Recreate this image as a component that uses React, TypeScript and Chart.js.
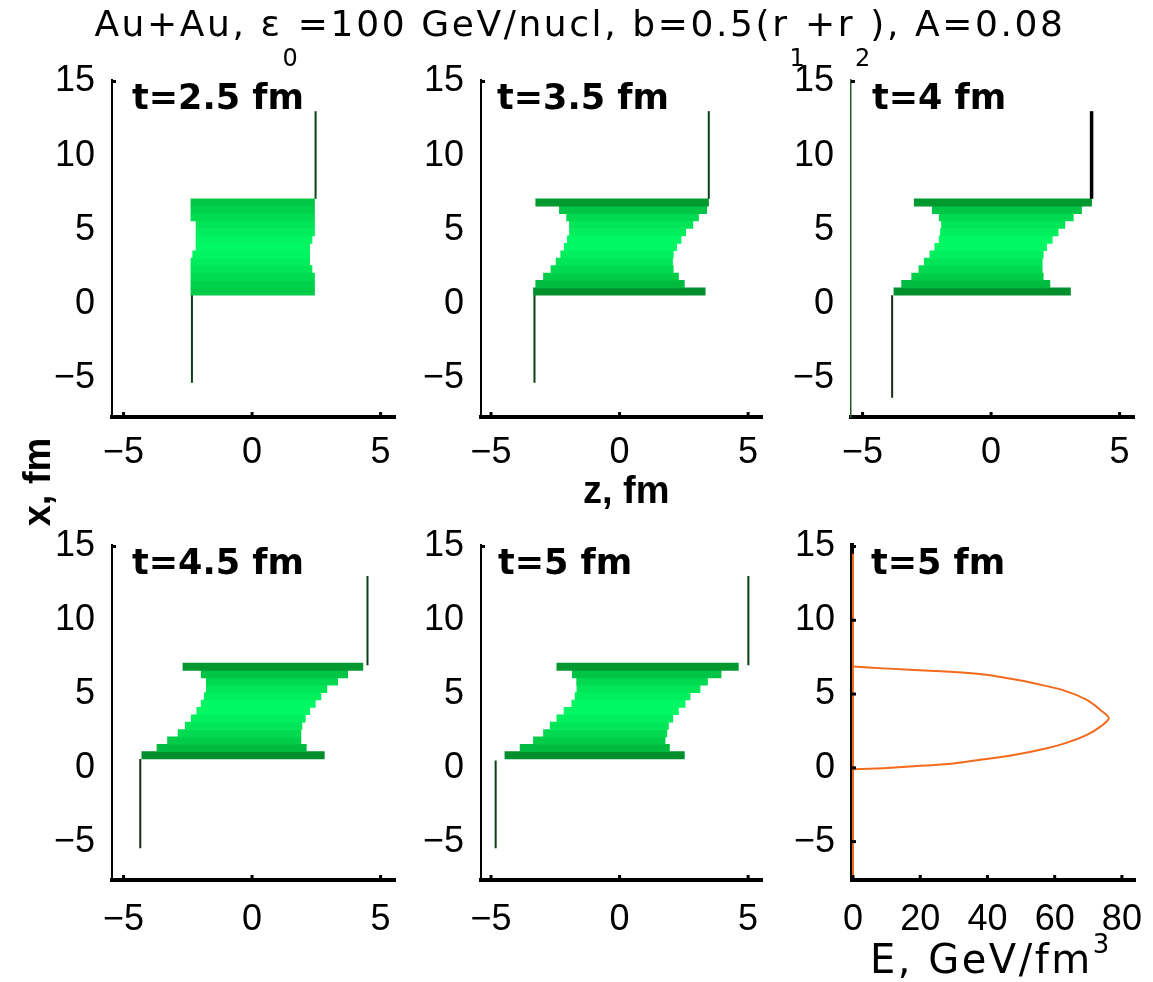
import React, { useEffect, useRef } from 'react';
import { Chart, registerables } from 'chart.js';

Chart.register(...registerables);

// ---------- DATA ----------
// transverse coordinate x (fm) of the centre of each fluid strip
const stripX = [0.85, 1.35, 1.85, 2.35, 2.85, 3.35, 3.85, 4.35, 4.85, 5.35, 5.85, 6.35, 6.85];

// left / right longitudinal edge z (fm) of each strip, bottom strip first
const zLeft_t25 = [-2.38, -2.38, -2.38, -2.38, -2.38, -2.31, -2.18, -2.18, -2.18, -2.18, -2.38, -2.38, -2.38];
const zRight_t25 = [2.43, 2.43, 2.43, 2.33, 2.24, 2.24, 2.24, 2.33, 2.43, 2.43, 2.43, 2.43, 2.43];

const zLeft_t35 = [-3.35, -3.26, -2.96, -2.67, -2.47, -2.29, -2.15, -2.03, -1.95, -1.95, -2.06, -2.34, -3.26];
const zRight_t35 = [3.33, 2.52, 2.29, 2.09, 2.06, 2.09, 2.22, 2.39, 2.57, 2.85, 3.07, 3.39, 3.46];

const zLeft_t40 = [-3.78, -3.48, -3.09, -2.81, -2.60, -2.38, -2.19, -2.02, -1.97, -1.93, -2.02, -2.29, -2.99];
const zRight_t40 = [3.09, 2.29, 2.03, 1.99, 1.99, 2.03, 2.16, 2.38, 2.61, 2.87, 3.20, 3.52, 3.91];

const zLeft_t45 = [-4.29, -3.70, -3.29, -2.88, -2.60, -2.37, -2.15, -1.98, -1.86, -1.78, -1.78, -1.98, -2.69];
const zRight_t45 = [2.81, 2.11, 1.90, 1.90, 1.94, 2.07, 2.24, 2.46, 2.68, 2.91, 3.33, 3.72, 4.31];

const zLeft_t50 = [-4.46, -3.87, -3.35, -2.96, -2.70, -2.44, -2.16, -1.86, -1.73, -1.66, -1.67, -1.84, -2.44];
const zRight_t50 = [2.52, 1.94, 1.77, 1.84, 1.90, 2.07, 2.29, 2.55, 2.74, 3.13, 3.42, 3.95, 4.62];

// spectator lines: z position and x extent
const specRightZ = [2.47, 3.47, 3.91, 4.49, 5.01];
const specRightX = [[7.1, 13.0], [7.1, 13.0], [7.1, 13.0], [6.95, 13.0], [6.95, 13.0]];
const specLeftZ = [-2.34, -3.31, -3.85, -4.35, -4.82];
const specLeftX = [[0.6, -5.3], [0.6, -5.3], [0.6, -6.3], [0.6, -5.45], [0.5, -5.45]];

// energy density profile at t = 5 fm (E in GeV/fm^3 versus x in fm)
const eProfile = [0, 9.1, 27.5, 38.9, 47.8, 53.8, 62.7, 69.6, 73.6, 76.1, 73.6, 69.6, 63.7, 57.7, 47.8, 37.9, 29.9, 18.0, 9.1, 0];
const xProfile = [6.86, 6.74, 6.52, 6.32, 6.0, 5.73, 5.25, 4.6, 3.92, 3.36, 2.79, 2.23, 1.71, 1.33, 0.87, 0.55, 0.3, 0.1, -0.02, -0.1];
// zero-energy line along the whole x range
const eZeroLine = [0, 0];
const xZeroLine = [14.5, -7.6];

const timeLabels = ['t=2.5 fm', 't=3.5 fm', 't=4 fm', 't=4.5 fm', 't=5 fm', 't=5 fm'];
const zTicks = [-5, 0, 5];
const xTicks = [-5, 0, 5, 10, 15];
const eTicks = [0, 20, 40, 60, 80];

const zLeftSets = [zLeft_t25, zLeft_t35, zLeft_t40, zLeft_t45, zLeft_t50];
const zRightSets = [zRight_t25, zRight_t35, zRight_t40, zRight_t45, zRight_t50];

// ---------- STYLE / LAYOUT ----------
const AY = 70;
const AX = 60;
const PT = 30;
const PR = 15;

const softColors = ['#00cc48', '#00d24c', '#00dc52', '#00e657', '#00ee5c', '#00f560', '#00f862', '#00f560', '#00ee5c', '#00e657', '#00dc52', '#00d24c', '#00c846'];
const deepColors = ['#008f2c', '#00bb40', '#00cc48', '#00d950', '#00e657', '#00f05d', '#00f862', '#00f862', '#00f05d', '#00e657', '#00d950', '#00c446', '#00982f'];

const TOP = { top: 80, height: 337, xPad: 6 };
const BOT = { top: 545, height: 335, xPad: 10 };

type Panel = {
  kind: 'bar' | 'profile';
  i: number;
  left: number;
  width: number;
  row: typeof TOP;
  min: number;
  max: number;
  labelDx: number;
  yColor: string;
  yWidth: number;
  rColor: string;
  rWidth: number;
  lColor: string;
  colors: string[];
};

const panels: Panel[] = [
  { kind: 'bar', i: 0, left: 112, width: 283, row: TOP, min: -5.45, max: 5.56, labelDx: 20, yColor: '#000', yWidth: 2, rColor: '#0b4016', rWidth: 2, lColor: '#0b4016', colors: softColors },
  { kind: 'bar', i: 1, left: 481, width: 281, row: TOP, min: -5.39, max: 5.54, labelDx: 16, yColor: '#000', yWidth: 2, rColor: '#0b4016', rWidth: 2, lColor: '#0b4016', colors: deepColors },
  { kind: 'bar', i: 2, left: 851, width: 283, row: TOP, min: -5.45, max: 5.56, labelDx: 21, yColor: '#1f5a2a', yWidth: 1.5, rColor: '#000', rWidth: 3.5, lColor: '#1a2e1a', colors: deepColors },
  { kind: 'bar', i: 3, left: 112, width: 283, row: BOT, min: -5.45, max: 5.56, labelDx: 20, yColor: '#000', yWidth: 2, rColor: '#0b4016', rWidth: 2, lColor: '#1a2a1a', colors: deepColors },
  { kind: 'bar', i: 4, left: 481, width: 281, row: BOT, min: -5.39, max: 5.54, labelDx: 17, yColor: '#000', yWidth: 2, rColor: '#0b4016', rWidth: 2, lColor: '#0b4016', colors: deepColors },
  { kind: 'profile', i: 5, left: 852, width: 283, row: BOT, min: -0.3, max: 83.9, labelDx: 19, yColor: '#000', yWidth: 4, rColor: '', rWidth: 0, lColor: '', colors: [] },
];

const fmt = (v: number) => (v < 0 ? '\u2212' + Math.abs(v) : String(v));

const tickStyle = {
  font: { family: '"Liberation Sans", Arial, sans-serif', size: 36 },
  color: '#000',
  maxRotation: 0,
  autoSkip: false,
  callback: (v: any) => fmt(Number(v)),
};

const innerTicks = {
  id: 'innerTicks',
  afterDraw(chart: any, _args: any, opts: any) {
    const { ctx, chartArea } = chart;
    const xs = chart.scales.x;
    const ys = chart.scales.y;
    ctx.save();
    ctx.strokeStyle = '#000';
    ctx.lineWidth = 3;
    xs.ticks.forEach((t: any) => {
      const px = xs.getPixelForValue(t.value);
      ctx.beginPath();
      ctx.moveTo(px, chartArea.bottom);
      ctx.lineTo(px, chartArea.bottom - 5);
      ctx.stroke();
    });
    const yt = opts && opts.allY ? ys.ticks : ys.ticks.filter((t: any) => t.value === 15);
    yt.forEach((t: any) => {
      const py = ys.getPixelForValue(t.value);
      ctx.beginPath();
      ctx.moveTo(chartArea.left, py);
      ctx.lineTo(chartArea.left + 4, py);
      ctx.stroke();
    });
    ctx.restore();
  },
};

function buildConfig(p: Panel): any {
  const xTickVals = p.kind === 'bar' ? zTicks : eTicks;
  const scales = {
    x: {
      type: 'linear',
      position: 'bottom',
      min: p.min,
      max: p.max,
      offset: false,
      grid: { display: false },
      border: { display: true, color: '#000', width: 4 },
      ticks: { ...tickStyle, padding: p.row.xPad },
      afterBuildTicks: (s: any) => {
        s.ticks = xTickVals.map((v) => ({ value: v }));
      },
      afterFit: (s: any) => {
        s.height = AX;
        s.paddingLeft = 0;
        s.paddingRight = 0;
      },
    },
    y: {
      type: 'linear',
      position: 'left',
      min: -7.6,
      max: 15.1,
      offset: false,
      grid: { display: false, offset: false },
      border: { display: true, color: p.yColor, width: p.yWidth },
      ticks: { ...tickStyle, padding: 9 },
      afterBuildTicks: (s: any) => {
        s.ticks = xTicks.map((v) => ({ value: v }));
      },
      afterFit: (s: any) => {
        s.width = AY;
        s.paddingTop = 0;
        s.paddingBottom = 0;
      },
    },
  };
  const common = {
    responsive: false,
    animation: false,
    events: [],
    layout: { padding: { top: PT, right: PR, left: 0, bottom: 0 } },
    plugins: {
      legend: { display: false },
      tooltip: { enabled: false },
      title: { display: false },
      innerTicks: { allY: p.kind === 'profile' },
    },
    scales,
  };

  if (p.kind === 'profile') {
    return {
      type: 'scatter',
      data: {
        datasets: [
          {
            data: eZeroLine.map((e, k) => ({ x: e, y: xZeroLine[k] })),
            showLine: true,
            borderColor: '#f26a1c',
            borderWidth: 2,
            pointRadius: 0,
            tension: 0,
          },
          {
            data: eProfile.map((e, k) => ({ x: e, y: xProfile[k] })),
            showLine: true,
            borderColor: '#f26a1c',
            borderWidth: 2,
            pointRadius: 0,
            tension: 0.3,
          },
        ],
      },
      options: common,
      plugins: [innerTicks],
    };
  }

  const zl = zLeftSets[p.i];
  const zr = zRightSets[p.i];
  return {
    type: 'bar',
    data: {
      datasets: [
        {
          type: 'bar',
          data: stripX.map((x, k) => ({ y: x, x: [zl[k], zr[k]] })),
          backgroundColor: p.colors,
          borderWidth: 0,
          barPercentage: 1,
          categoryPercentage: 1,
          grouped: false,
          order: 2,
        },
        {
          type: 'line',
          data: specRightX[p.i].map((v) => ({ x: specRightZ[p.i], y: v })),
          borderColor: p.rColor,
          borderWidth: p.rWidth,
          pointRadius: 0,
          fill: false,
          order: 1,
        },
        {
          type: 'line',
          data: specLeftX[p.i].map((v) => ({ x: specLeftZ[p.i], y: v })),
          borderColor: p.lColor,
          borderWidth: 2,
          pointRadius: 0,
          fill: false,
          order: 1,
        },
      ],
    },
    options: { ...common, indexAxis: 'y' },
    plugins: [innerTicks],
  };
}

function PanelChart({ p }: { p: Panel }) {
  const ref = useRef<HTMLCanvasElement>(null);
  const w = AY + p.width + PR;
  const h = PT + p.row.height + AX;
  useEffect(() => {
    const chart = new Chart(ref.current as HTMLCanvasElement, buildConfig(p));
    return () => chart.destroy();
  }, []);
  return (
    <canvas
      ref={ref}
      width={w}
      height={h}
      style={{ position: 'absolute', left: p.left - AY, top: p.row.top - PT, width: w, height: h }}
    />
  );
}

export default function App() {
  const subStyle: React.CSSProperties = { fontSize: '24px', verticalAlign: '-30px', lineHeight: 0, letterSpacing: 0 };
  return (
    <div style={{ position: 'absolute', left: 0, top: 0, width: 1153, height: 982, background: '#fff', overflow: 'hidden' }}>
      {panels.map((p) => (
        <PanelChart key={p.i} p={p} />
      ))}
      {panels.map((p) => (
        <div
          key={'t' + p.i}
          style={{
            position: 'absolute',
            left: p.left + p.labelDx,
            top: p.row.top + 0.4,
            font: 'bold 35px "DejaVu Sans", sans-serif',
            lineHeight: '35px',
            whiteSpace: 'nowrap',
            color: '#000',
          }}
        >
          {timeLabels[p.i]}
        </div>
      ))}
      <div
        style={{
          position: 'absolute',
          left: 0,
          top: 6,
          width: 1160,
          textAlign: 'center',
          font: '36px "DejaVu Sans", sans-serif',
          lineHeight: '36px',
          letterSpacing: '2.6px',
          whiteSpace: 'nowrap',
          color: '#000',
        }}
      >
        Au+Au, ε<sub style={subStyle}>0</sub>=100 GeV/nucl, b=0.5(r<sub style={subStyle}>1</sub>+r
        <sub style={subStyle}>2</sub>), A=0.08
      </div>
      <div
        style={{
          position: 'absolute',
          left: 583,
          top: 471,
          font: 'bold 38px "Liberation Sans", Arial, sans-serif',
          lineHeight: '38px',
          whiteSpace: 'nowrap',
          color: '#000',
        }}
      >
        z, fm
      </div>
      <div
        style={{
          position: 'absolute',
          left: 37 - 60,
          top: 482 - 19,
          width: 120,
          height: 38,
          textAlign: 'center',
          transform: 'rotate(-90deg)',
          font: 'bold 38px "Liberation Sans", Arial, sans-serif',
          lineHeight: '38px',
          whiteSpace: 'nowrap',
          color: '#000',
        }}
      >
        x, fm
      </div>
      <div
        style={{
          position: 'absolute',
          left: 870,
          top: 939,
          font: '40px "DejaVu Sans", sans-serif',
          lineHeight: '40px',
          letterSpacing: '2.5px',
          whiteSpace: 'nowrap',
          color: '#000',
        }}
      >
        E, GeV/fm<sup style={{ fontSize: '26px', verticalAlign: '20px', lineHeight: 0 }}>3</sup>
      </div>
    </div>
  );
}
